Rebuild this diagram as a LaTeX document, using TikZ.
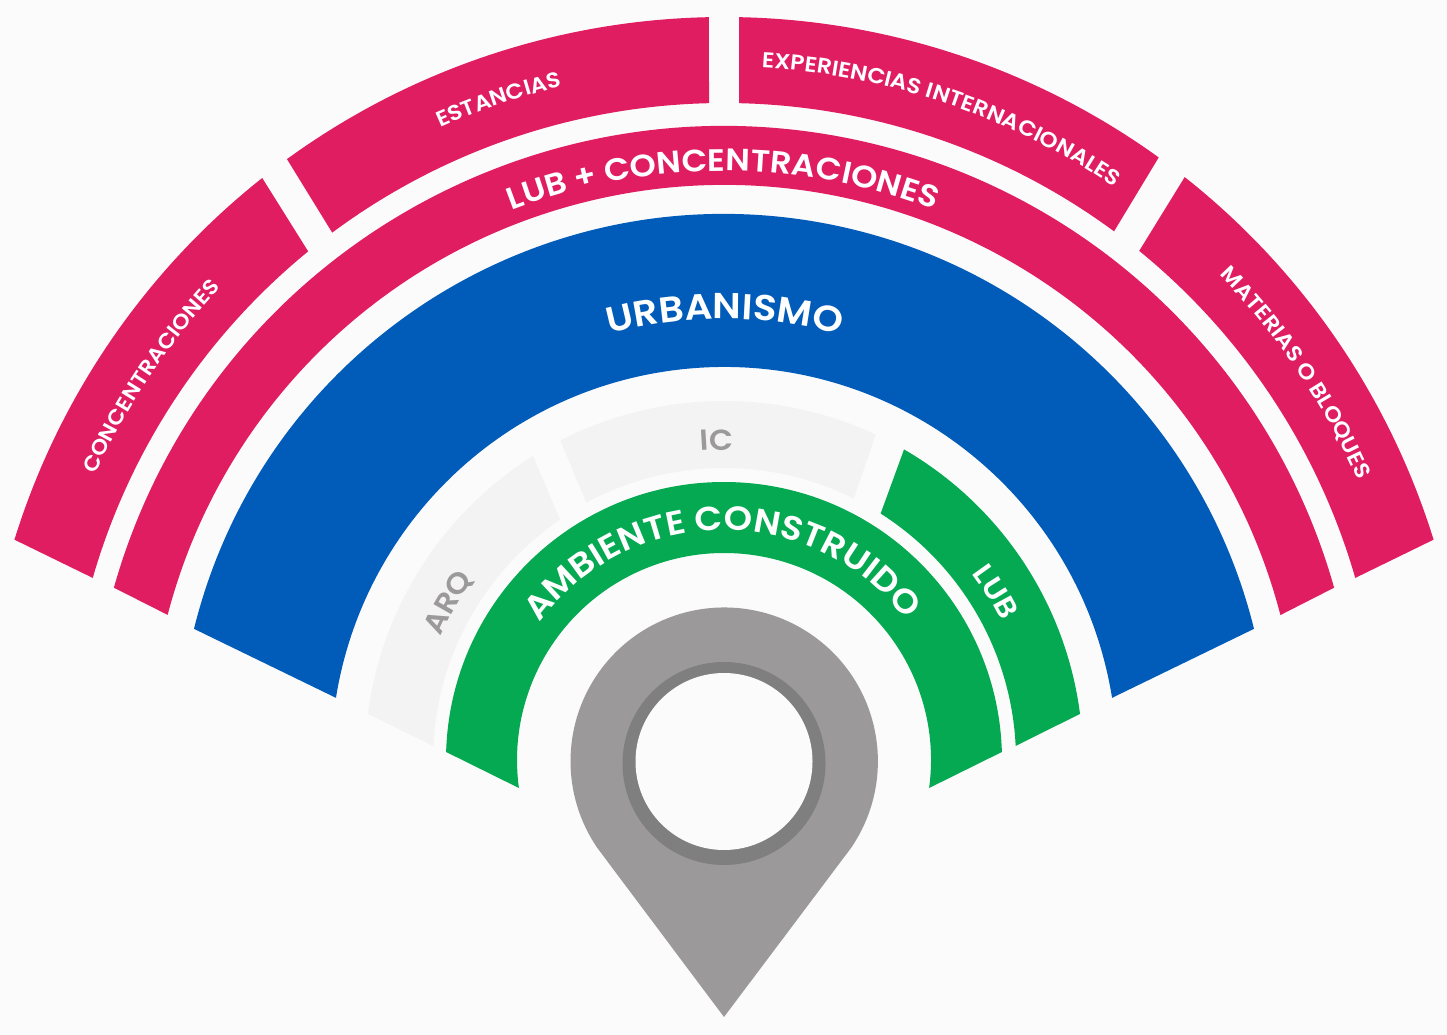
\documentclass[tikz,border=0pt]{standalone}
\usepackage{fontspec}
\usetikzlibrary{decorations.text}
\newfontfamily\labelfont[FakeStretch=1.08,BoldFont={Poppins SemiBold}]{Poppins}
\definecolor{bgc}{HTML}{FBFBFB}
\definecolor{pinkc}{HTML}{E01D60}
\definecolor{bluec}{HTML}{015CB9}
\definecolor{greenc}{HTML}{04A952}
\definecolor{ringc}{HTML}{F3F3F3}
\definecolor{pinc}{HTML}{9B999A}
\definecolor{pinring}{HTML}{7F7F7F}
% #1 colour, #2 outer radius, #3 inner radius, #4 outer start, #5 outer end, #6 inner end, #7 inner start
\newcommand\ringseg[7]{\fill[#1] (#4:#2) arc[start angle=#4,end angle=#5,radius=#2] -- (#6:#3) arc[start angle=#6,end angle=#7,radius=#3] -- cycle;}
% #1 colour, #2 radius, #3 mid angle, #4 size, #5 text
\newcommand\arclabel[5]{\path[decorate,decoration={text along path,text align=center,text color=#1,
  text={|\labelfont\fontsize{#4}{#4}\selectfont\bfseries|#5}}]
  (#3+85:#2) arc[start angle=#3+85,end angle=#3-85,radius=#2];}
\begin{document}
\begin{tikzpicture}[x=1pt,y=1pt]
\useasboundingbox (0,0) rectangle (1447,1035);
\fill[bgc] (0,0) rectangle (1447,1035);
\begin{scope}[shift={(724,275)}]
% outer pink ring
\ringseg{pinkc}{743}{657}{162.75}{128.43}{129.27}{163.91}
\ringseg{pinkc}{743}{657}{126.03}{91.16}{91.31}{126.61}
\ringseg{pinkc}{743}{657}{88.84}{54.19}{53.58}{88.69}
\ringseg{pinkc}{743}{657}{51.68}{17.25}{16.09}{50.80}
% LUB + concentraciones
\ringseg{pinkc}{634}{575}{164.23}{15.77}{14.60}{165.38}
% urbanismo
\ringseg{bluec}{546}{393}{166.1}{13.9}{9.10}{170.90}
% grey and green outer segments
\ringseg{ringc}{359}{291}{172.62}{122.14}{124.30}{177.24}
\ringseg{ringc}{359}{292}{117.13}{65.00}{63.60}{118.14}
\ringseg{greenc}{359}{292}{59.90}{7.38}{2.75}{57.56}
% ambiente construido
\ringseg{greenc}{278}{207}{178.35}{1.65}{-7.78}{187.78}
% labels
\arclabel{white}{693}{108.85}{21.5}{ESTANCIAS}
\arclabel{white}{693}{71.3}{21.5}{EXPERIENCIAS INTERNACIONALES}
\arclabel{white}{690}{146.2}{21}{CONCENTRACIONES}
\arclabel{white}{693}{34.1}{21.5}{MATERIAS O BLOQUES}
\arclabel{white}{589}{90.1}{31}{LUB + CONCENTRACIONES}
\arclabel{white}{441}{89.9}{36}{URBANISMO}
\arclabel{white}{230}{90.5}{33.5}{AMBIENTE CONSTRUIDO}
\arclabel{white}{310}{31.7}{29}{LUB}
\arclabel{pinc}{309}{150.3}{29}{ARQ}
\arclabel{pinc}{310}{91.3}{29}{IC}
\end{scope}
% map pin
\fill[pinc] (724,18) -- (851,187) arc[start angle=-34.4,end angle=214.4,radius=153.7] -- cycle;
\fill[pinring] (724,271.5) circle[radius=101.5];
\fill[bgc] (724,273.5) circle[radius=88.5];
\end{tikzpicture}
\end{document}
